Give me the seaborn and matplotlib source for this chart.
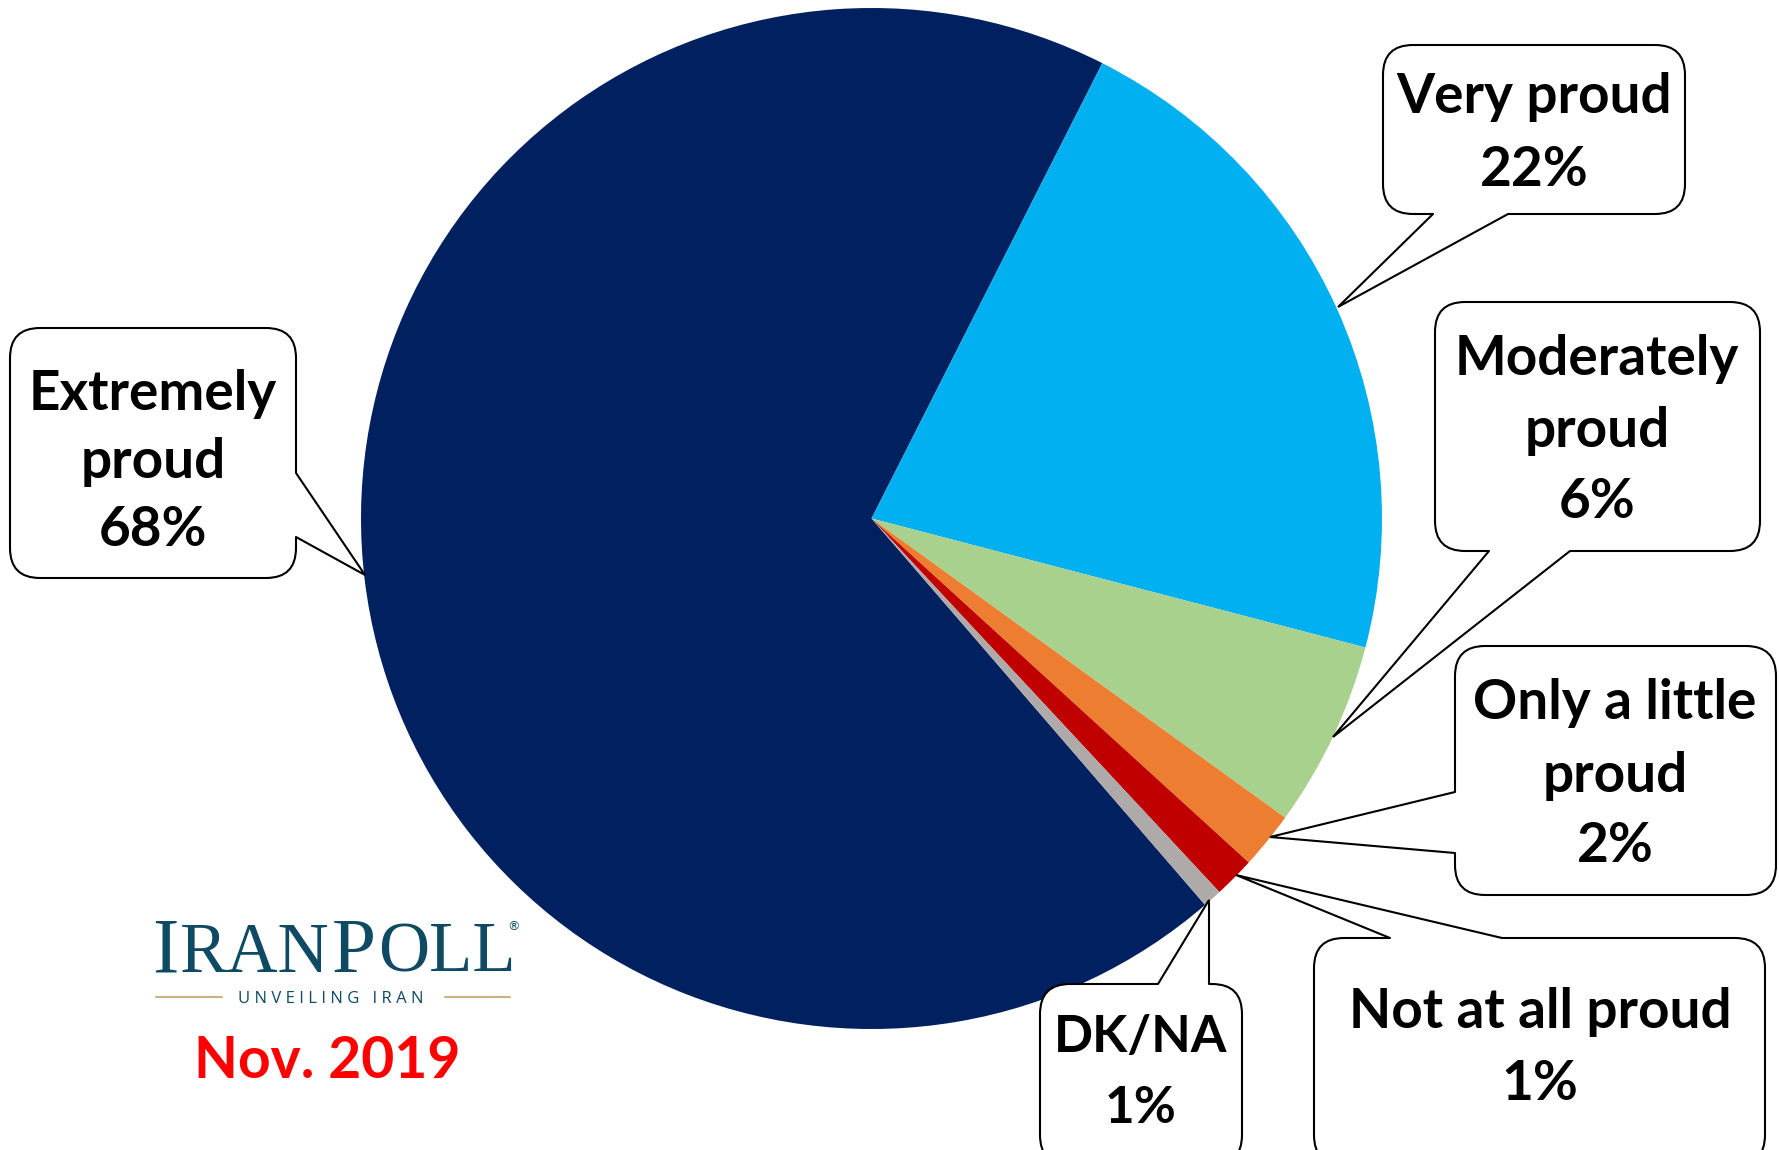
import matplotlib
matplotlib.use("Agg")
import matplotlib.pyplot as plt
import seaborn as sns
from matplotlib.patches import FancyBboxPatch, Polygon

# ---------------- data ----------------
categories = ["Extremely proud", "Very proud", "Moderately proud",
              "Only a little proud", "Not at all proud", "DK/NA"]
values = [68.8, 21.6, 5.9, 1.8, 1.3, 0.6]
pct_labels = ["68%", "22%", "6%", "2%", "1%", "1%"]
name_lines = [["Extremely", "proud"], ["Very proud"], ["Moderately", "proud"],
              ["Only a little", "proud"], ["Not at all proud"], ["DK/NA"]]
slice_colors = ["#002060", "#00B0F0", "#A9D18E", "#ED7D31", "#C00000", "#AEAAAA"]
date_label = "Nov. 2019"

# ---------------- style ----------------
sns.set_theme(style="white")
plt.rcParams['font.family'] = ['Lato', 'DejaVu Sans']

W, H = 1779, 1150
FS = 39.5
fig = plt.figure(figsize=(W / 100, H / 100), dpi=100)
ax = fig.add_axes([0, 0, 1, 1])

def Y(y):
    return H - y

palette = sns.color_palette(slice_colors)
ax.pie(values, colors=palette, startangle=310.8, counterclock=False,
       center=(871.5, Y(518.5)), radius=510.5,
       wedgeprops=dict(linewidth=0))
ax.set_xlim(0, W)
ax.set_ylim(0, H)
ax.set_aspect('equal')
ax.axis('off')

# callout layout (pixel coordinates, y downwards)
layout = [
    dict(box=(10, 328, 296, 578), base=((296, 473), (296, 537)), tip=(365, 575), cx=153, baselines=(410, 478, 546), fs=FS),
    dict(box=(1383, 45, 1685, 214), base=((1433, 214), (1508, 214)), tip=(1338, 307), cx=1534, baselines=(113, 186), fs=FS),
    dict(box=(1435, 302, 1760, 551), base=((1489, 551), (1570, 551)), tip=(1333, 737), cx=1597, baselines=(375, 447, 518), fs=FS),
    dict(box=(1455, 646, 1776, 895), base=((1455, 792), (1455, 853)), tip=(1270, 837), cx=1615, baselines=(719, 792, 862), fs=FS),
    dict(box=(1314, 938, 1765, 1165), base=((1390, 938), (1502, 938)), tip=(1236, 875), cx=1540, baselines=(1028, 1100), fs=FS),
    dict(box=(1040, 984, 1242, 1165), base=((1158, 984), (1209, 984)), tip=(1209, 900), cx=1141, baselines=(1052, 1123), fs=37),
]

for names, pct, L in zip(name_lines, pct_labels, layout):
    x0, y0, x1, y1 = L['box']
    ax.add_patch(FancyBboxPatch((x0, Y(y1)), x1 - x0, y1 - y0,
                                boxstyle="round,pad=0,rounding_size=30",
                                fc='white', ec='black', lw=1.5, zorder=3))
    (bx1, by1), (bx2, by2) = L['base']
    tx, ty = L['tip']
    if bx1 == bx2:
        d = 5 if bx1 == x0 else -5
        inner = [(bx2 + d, by2), (bx1 + d, by1)]
    else:
        d = 5 if by1 == y0 else -5
        inner = [(bx2, by2 + d), (bx1, by1 + d)]
    pts = [(bx1, by1), (tx, ty), (bx2, by2)] + inner
    ax.add_patch(Polygon([(x, Y(y)) for x, y in pts], closed=True,
                         fc='white', ec='none', zorder=4))
    ax.plot([bx1, tx, bx2], [Y(by1), Y(ty), Y(by2)], color='black',
            lw=1.5, zorder=5, solid_joinstyle='miter')
    for txt, b in zip(names + [pct], L['baselines']):
        ax.text(L['cx'], Y(b), txt, ha='center', va='baseline',
                fontsize=L['fs'], fontweight='bold', color='black', zorder=6)

# ---------------- logo ----------------
teal = "#0E4A64"
gold = "#C9B27C"
fig.canvas.draw()
renderer = fig.canvas.get_renderer()
x = 152
for s, fs in [("I", 57), ("RAN", 51), ("P", 57), ("OLL", 51)]:
    t = ax.text(x, Y(972), s, fontsize=fs, family='Liberation Serif', color=teal,
                ha='left', va='baseline')
    x += t.get_window_extent(renderer=renderer).width + 2
ax.text(x - 10, Y(930), "®", fontsize=9, family='DejaVu Sans', color=teal,
        ha='left', va='baseline')
ax.text(331, Y(1003), "U N V E I L I N G   I R A N", fontsize=12,
        family='Open Sans', color=teal, ha='center', va='baseline')
ax.plot([156, 222], [Y(997), Y(997)], color=gold, lw=1.5)
ax.plot([445, 510], [Y(997), Y(997)], color=gold, lw=1.5)

ax.text(327, Y(1078), date_label, color='#FF0000', fontsize=41,
        fontweight='bold', ha='center', va='baseline')

fig.savefig("out.png", dpi=100)
